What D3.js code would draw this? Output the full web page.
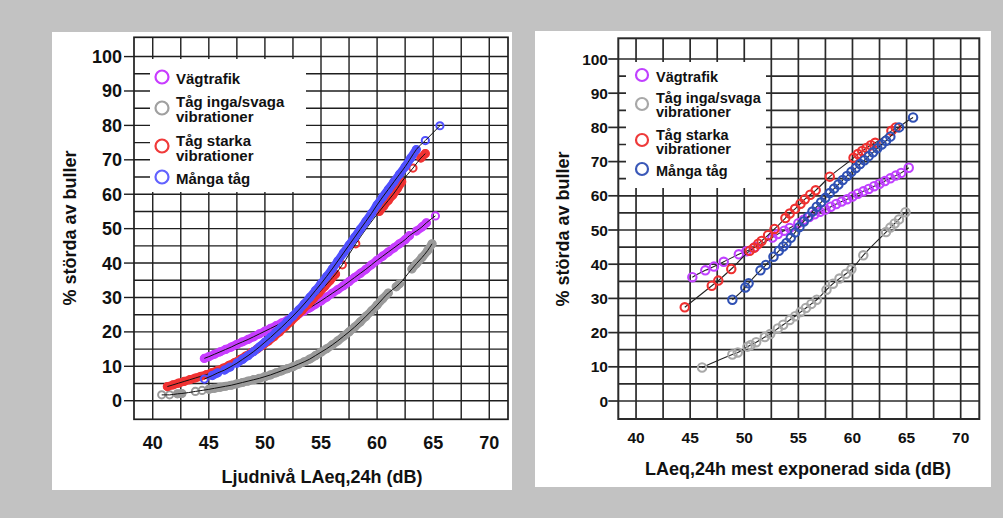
<!DOCTYPE html>
<html><head><meta charset="utf-8">
<script src="https://cdn.jsdelivr.net/npm/d3@7"></script>
<style>
html,body{margin:0;padding:0;background:#c2c2c2;}
svg{display:block;}
text{font-family:"Liberation Sans",Arial,sans-serif;fill:#111;}
</style></head><body>
<svg id="c" width="1003" height="518"></svg>
<script>
// ---------- data ----------
const xTicks = [40, 45, 50, 55, 60, 65, 70];
const yTicks = [0, 10, 20, 30, 40, 50, 60, 70, 80, 90, 100];
const seriesNames = [["Vägtrafik"], ["Tåg inga/svaga", "vibrationer"], ["Tåg starka", "vibrationer"], ["Många tåg"]];
const leftXTitle = "Ljudnivå LAeq,24h (dB)";
const rightXTitle = "LAeq,24h mest exponerad sida (dB)";
const yTitle = "% störda av buller";

// Left panel: LAeq,24h
const leftRoad = [[44.6,12.3],[45,12.8],[45.5,13.5],[46,14.2],[46.5,14.9],[47,15.6],[47.5,16.4],[48,17.1],[48.5,17.8],[49,18.6],[49.5,19.4],[50,20.2],[50.5,21.0],[51,21.8],[51.5,22.6],[52,23.4],[52.5,24.3],[53,25.2],[53.5,26.1],[54,27.0],[54.5,28.0],[55,29.0],[55.5,30.1],[56,31.2],[56.5,32.3],[57,33.4],[57.5,34.6],[58,35.8],[58.5,37.0],[59,38.2],[59.5,39.5],[60,40.8],[60.5,42.0],[61,43.2],[61.5,44.4],[62,45.6],[62.5,46.8],[62.9,48.0],[63.5,49.3],[64,50.5],[64.4,51.7],[65.2,53.7]];
const leftQuiet = [[40.8,1.7],[41.5,1.7],[42.2,2.0],[42.6,2.1],[43.8,2.7],[44.4,3.0],[45,3.3],[45.5,3.6],[46,3.9],[46.5,4.2],[47,4.5],[47.5,4.9],[48,5.3],[48.5,5.7],[49,6.1],[49.5,6.5],[50,7.0],[50.5,7.5],[51,8.1],[51.5,8.7],[52,9.3],[52.5,9.9],[53,10.6],[53.5,11.3],[54,12.1],[54.5,13.1],[55,14.1],[55.5,15.1],[56,16.2],[56.5,17.4],[57,18.7],[57.5,20.0],[58,21.4],[58.5,22.9],[59,24.5],[59.5,26.1],[60,27.8],[60.5,29.6],[61,31.3],[61.7,33.1],[62.0,34.0],[63.1,38.3],[63.5,39.8],[64,41.6],[64.5,43.6],[64.9,45.6]];
const leftStrong = [[41.3,4.1],[41.8,4.6],[42.3,5.1],[42.8,5.6],[43.3,6.1],[43.8,6.6],[44.3,7.1],[44.8,7.6],[45.3,8.2],[45.8,8.8],[46.3,9.5],[46.8,10.3],[47.3,11.1],[47.8,12.0],[48.3,13.0],[48.8,14.0],[49.3,15.0],[49.8,16.1],[50.3,17.3],[50.8,18.6],[51.3,20.0],[51.8,21.5],[52.3,23.0],[52.8,24.6],[53.3,26.2],[53.8,27.9],[54.3,29.6],[54.8,31.3],[55.3,33.1],[55.8,34.9],[56.3,36.8],[56.9,39.5],[58.1,45.6],[60.2,55.0],[60.6,56.6],[61.0,58.2],[61.4,59.8],[61.8,61.6],[62.2,63.6],[63.2,67.6],[63.9,70.5],[64.3,71.8]];
const leftMany = [[44.6,6.3],[45.3,7.3],[45.8,8.1],[46.4,8.9],[46.9,9.8],[47.5,10.9],[48,12.0],[48.5,13.1],[49,14.3],[49.5,15.6],[50,17.0],[50.5,18.4],[51,19.9],[51.5,21.4],[52,23.0],[52.5,24.6],[53,26.3],[53.5,28.1],[54,30.0],[54.5,32.0],[55,34.0],[55.5,36.1],[56,38.3],[56.5,40.6],[57,42.9],[57.5,45.2],[58,47.5],[58.5,49.8],[59,52.1],[59.5,54.4],[60,56.9],[60.5,59.2],[61,61.4],[61.5,63.6],[62,65.8],[62.5,68.0],[63,70.5],[63.5,73.0],[64.3,75.6],[65.6,79.9]];

// Right panel: LAeq,24h mest exponerad sida
const rightRoad = [[45.2,36.2],[46.4,38.2],[47.2,39.3],[48.1,40.7],[49.5,42.9],[50.2,43.8],[51.0,45.0],[52.6,47.8],[53.1,48.8],[53.7,49.8],[54.2,50.6],[55.0,52.0],[55.5,53.0],[56.0,53.8],[56.5,54.6],[57.0,55.3],[57.5,56.0],[58.0,56.8],[58.5,57.6],[59.0,58.3],[59.5,59.0],[60.0,59.8],[60.5,60.6],[61.0,61.3],[61.5,62.0],[62.0,62.8],[62.5,63.5],[63.0,64.3],[63.5,65.1],[64.0,65.9],[64.5,66.7],[65.2,68.2]];
const rightQuiet = [[46.1,9.8],[48.9,13.6],[49.4,14.2],[50.3,15.9],[50.6,16.4],[51.1,17.2],[51.9,18.7],[52.4,19.6],[53.1,21.2],[53.6,22.3],[54.2,23.7],[54.7,24.8],[55.2,26.0],[55.7,27.2],[56.2,28.4],[56.7,29.6],[57.6,32.5],[58.2,34.3],[58.8,35.8],[59.4,37.2],[59.9,38.5],[61.0,42.6],[63.1,49.4],[63.5,50.7],[63.9,51.9],[64.3,53.1],[64.9,55.2]];
const rightStrong = [[44.5,27.4],[47.0,33.7],[47.6,35.2],[48.8,38.6],[50.5,43.9],[50.9,44.8],[51.3,46.0],[51.6,46.8],[52.2,48.5],[52.8,50.3],[53.8,53.5],[54.2,54.8],[54.7,56.2],[55.2,57.7],[55.6,59.0],[56.1,60.3],[56.6,61.6],[57.9,65.6],[60.1,71.1],[60.5,72.2],[60.9,73.1],[61.3,74.0],[61.7,74.8],[62.1,75.5],[63.6,79.0],[64.0,80.0]];
const rightMany = [[48.9,29.6],[50.1,33.2],[50.4,34.4],[51.5,38.2],[52.0,39.8],[52.7,42.2],[53.2,43.9],[53.6,45.2],[53.9,46.2],[54.3,47.7],[54.7,49.3],[55.1,50.9],[55.5,52.5],[55.9,53.9],[56.3,55.4],[56.7,56.8],[57.1,58.1],[57.5,59.4],[57.9,60.8],[58.3,62.1],[58.7,63.3],[59.1,64.6],[59.5,65.8],[59.9,67.0],[60.3,68.1],[60.7,69.3],[61.1,70.4],[61.5,71.6],[61.9,72.7],[62.3,73.9],[62.7,75.0],[63.1,76.1],[63.5,77.3],[64.3,80.0],[65.6,82.9]];

// ---------- drawing ----------
const svg = d3.select("#c");

function drawPanel(cfg) {
  const g = svg.append("g");
  g.append("rect").attr("x", cfg.panel[0]).attr("y", cfg.panel[1])
    .attr("width", cfg.panel[2]).attr("height", cfg.panel[3]).attr("fill", "#fff");

  const x = d3.scaleLinear().domain(cfg.xDomain).range([cfg.plot[0], cfg.plot[2]]);
  const y = d3.scaleLinear().domain(cfg.yDomain).range([cfg.plot[3], cfg.plot[1]]);

  // grid
  const vLines = d3.range(40, 70.01, 2.5);
  const hLines = d3.range(0, 100.01, 5);
  g.selectAll(null).data(vLines).join("line")
    .attr("x1", d => x(d)).attr("x2", d => x(d))
    .attr("y1", cfg.plot[1]).attr("y2", cfg.plot[3])
    .attr("stroke", cfg.gridColor).attr("stroke-width", cfg.gridWidth);
  g.selectAll(null).data(hLines).join("line")
    .attr("x1", cfg.plot[0]).attr("x2", cfg.plot[2])
    .attr("y1", d => y(d)).attr("y2", d => y(d))
    .attr("stroke", cfg.gridColor).attr("stroke-width", cfg.gridWidth);
  g.append("rect").attr("x", cfg.plot[0]).attr("y", cfg.plot[1])
    .attr("width", cfg.plot[2] - cfg.plot[0]).attr("height", cfg.plot[3] - cfg.plot[1])
    .attr("fill", "none").attr("stroke", cfg.gridColor).attr("stroke-width", cfg.gridWidth + 0.3);
  // y ticks outside
  g.selectAll(null).data(yTicks).join("line")
    .attr("x1", cfg.plot[0] - 10).attr("x2", cfg.plot[0])
    .attr("y1", d => y(d)).attr("y2", d => y(d))
    .attr("stroke", cfg.gridColor).attr("stroke-width", cfg.gridWidth);

  // tick labels
  g.selectAll(null).data(yTicks).join("text")
    .attr("x", cfg.yLabelX).attr("y", d => y(d) + cfg.tickSize * 0.36)
    .attr("text-anchor", "end").attr("font-size", cfg.tickSize)
    .attr("font-weight", cfg.tickWeight).text(d => d);
  g.selectAll(null).data(xTicks).join("text")
    .attr("x", d => x(d)).attr("y", cfg.xLabelY)
    .attr("text-anchor", "middle").attr("font-size", cfg.tickSize)
    .attr("font-weight", cfg.tickWeight).text(d => d);

  // titles
  g.append("text").attr("x", cfg.xTitle[0]).attr("y", cfg.xTitle[1])
    .attr("text-anchor", "middle").attr("font-size", 18).attr("font-weight", "bold").text(cfg.xTitleText);
  g.append("text").attr("transform", `translate(${cfg.yTitle[0]},${cfg.yTitle[1]}) rotate(-90)`)
    .attr("text-anchor", "middle").attr("font-size", 18).attr("font-weight", "bold").text(yTitle);

  // legend box
  g.append("rect").attr("x", cfg.legend[0]).attr("y", cfg.legend[1])
    .attr("width", cfg.legend[2]).attr("height", cfg.legend[3]).attr("fill", "#fff");

  // series
  const line = d3.line().x(d => x(d[0])).y(d => y(d[1])).curve(d3.curveMonotoneX);
  cfg.series.forEach((s, i) => {
    const col = cfg.colors[i];
    if (cfg.band) {
      // solid band where observations are dense
      let runs = [], cur = [s[0]];
      for (let k = 1; k < s.length; k++) {
        if (s[k][0] - s[k - 1][0] <= 0.6) cur.push(s[k]);
        else { runs.push(cur); cur = [s[k]]; }
      }
      runs.push(cur);
      runs.filter(r => r.length > 1).forEach(r => {
        g.append("path").attr("d", line(r)).attr("fill", "none")
          .attr("stroke", col).attr("stroke-width", 8.5).attr("stroke-linecap", "round")
          .attr("stroke-linejoin", "round");
      });
      g.selectAll(null).data(s).join("circle")
        .attr("cx", d => x(d[0])).attr("cy", d => y(d[1])).attr("r", cfg.r)
        .attr("fill", "none").attr("stroke", col).attr("stroke-width", 2);
      g.append("path").attr("d", line(s)).attr("fill", "none")
        .attr("stroke", "#111").attr("stroke-width", 1);
    } else {
      g.append("path").attr("d", line(s)).attr("fill", "none")
        .attr("stroke", "#222").attr("stroke-width", 1.1);
      g.selectAll(null).data(s).join("circle")
        .attr("cx", d => x(d[0])).attr("cy", d => y(d[1])).attr("r", cfg.r)
        .attr("fill", "none").attr("stroke", col).attr("stroke-width", 2.1);
    }
  });

  // legend content
  const lg = cfg.legendItems;
  seriesNames.forEach((lines, i) => {
    g.append("circle").attr("cx", lg.markerX).attr("cy", lg.markerY[i]).attr("r", lg.r)
      .attr("fill", "none").attr("stroke", cfg.legendColors[i]).attr("stroke-width", 2.2);
    lines.forEach((t, j) => {
      g.append("text").attr("x", lg.textX).attr("y", lg.textY[i] + j * lg.lineGap)
        .attr("font-size", lg.size).attr("font-weight", "bold").text(t);
    });
  });
}

drawPanel({
  panel: [52, 32, 460, 458],
  plot: [134, 37.3, 508, 419.3],
  xDomain: [38.33, 71.67], yDomain: [-5.4, 105.6],
  gridColor: "#1e1e1e", gridWidth: 1.4,
  tickSize: 18, tickWeight: "bold", yLabelX: 122, xLabelY: 449,
  xTitle: [322, 483], xTitleText: leftXTitle, yTitle: [76, 228],
  legend: [150, 59, 156, 133],
  series: [leftRoad, leftQuiet, leftStrong, leftMany],
  colors: ["#c83cff", "#9a9a9a", "#f03232", "#5050ff"],
  legendColors: ["#c83cff", "#a0a0a0", "#f03a3a", "#6262ff"],
  band: true, r: 3.6,
  legendItems: { markerX: 162, markerY: [77, 108, 146, 177], r: 6.5, textX: 176,
    textY: [84, 106.5, 145.5, 184], lineGap: 15, size: 15 }
});

drawPanel({
  panel: [535, 31, 456, 456],
  plot: [618.3, 38.3, 979.3, 419],
  xDomain: [38.36, 71.72], yDomain: [-5.26, 106.05],
  gridColor: "#2a2a2a", gridWidth: 1.7,
  tickSize: 15.5, tickWeight: "bold", yLabelX: 608, xLabelY: 443,
  xTitle: [798, 475], xTitleText: rightXTitle, yTitle: [569, 229],
  legend: [626, 62, 140, 126],
  series: [rightRoad, rightQuiet, rightStrong, rightMany],
  colors: ["#c040ff", "#a8a8a8", "#ee3030", "#2f50b4"],
  legendColors: ["#c040ff", "#a8a8a8", "#ee3a3a", "#3a58b8"],
  band: false, r: 4.2,
  legendItems: { markerX: 642, markerY: [75, 104, 140, 169], r: 6, textX: 656,
    textY: [81.5, 103, 140, 176], lineGap: 14, size: 14.5 }
});
</script>
</body></html>
